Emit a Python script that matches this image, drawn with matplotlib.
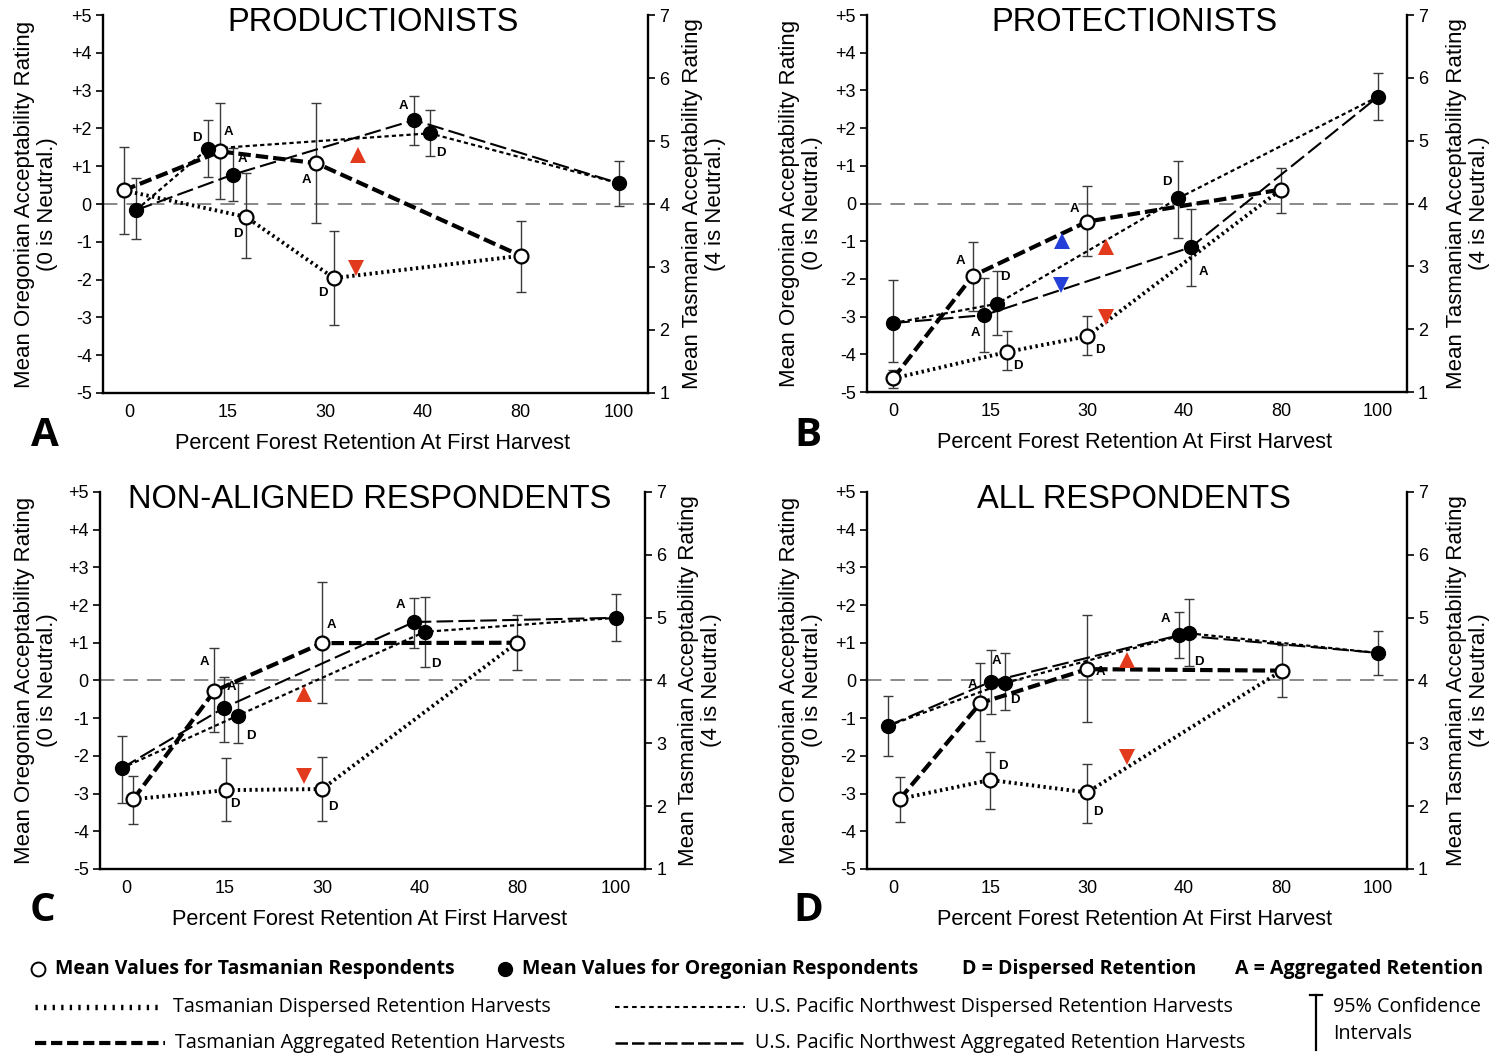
import numpy as np
import matplotlib
matplotlib.use('Agg')
from matplotlib import pyplot as plt
from matplotlib import font_manager
from matplotlib.lines import Line2D


def pick_font(names):
    for n in names:
        try:
            font_manager.findfont(n, fallback_to_default=False)
            return n
        except ValueError:
            pass
    return 'DejaVu Sans'


NARROW = pick_font(['Liberation Sans Narrow', 'Liberation Sans', 'DejaVu Sans'])
SANS = pick_font(['Liberation Sans', 'DejaVu Sans'])
LEGEND_FONT = pick_font(['Open Sans', 'Lato', 'DejaVu Sans'])

# ---- data ---------------------------------------------------------------
CATEGORIES = ['0', '15', '30', '40', '80', '100']

# Tasmanian points: 0, 15D, 15A, 30D, 30A, 80
TAS_KEYS = ['0', '15D', '15A', '30D', '30A', '80']
TAS_CAT = [0, 1, 1, 2, 2, 4]
# Oregonian points: 0, 15D, 15A, 40D, 40A, 100
ORE_KEYS = ['0', '15D', '15A', '40D', '40A', '100']
ORE_CAT = [0, 1, 1, 3, 3, 5]

# A - productionists
tas_mean_A = [0.36, -0.34, 1.39, -1.96, 1.08, -1.37]
tas_lo_A = [-0.80, -1.44, 0.14, -3.19, -0.49, -2.33]
tas_hi_A = [1.52, 0.82, 2.66, -0.72, 2.68, -0.44]
ore_mean_A = [-0.16, 1.46, 0.78, 1.87, 2.22, 0.55]
ore_lo_A = [-0.92, 0.71, 0.08, 1.28, 1.55, -0.06]
ore_hi_A = [0.69, 2.21, 1.48, 2.48, 2.87, 1.15]

# B - protectionists
tas_mean_B = [-4.64, -3.94, -1.92, -3.52, -0.48, 0.37]
tas_lo_B = [-4.88, -4.42, -2.84, -4.03, -1.38, -0.25]
tas_hi_B = [-4.42, -3.39, -1.01, -2.99, 0.47, 0.94]
ore_mean_B = [-3.17, -2.66, -2.96, 0.14, -1.16, 2.83]
ore_lo_B = [-4.20, -3.50, -3.94, -0.91, -2.18, 2.22]
ore_hi_B = [-2.03, -1.80, -1.98, 1.12, -0.15, 3.45]

# C - non-aligned respondents
tas_mean_C = [-3.15, -2.91, -0.28, -2.88, 0.99, 1.00]
tas_lo_C = [-3.81, -3.74, -1.36, -3.74, -0.59, 0.28]
tas_hi_C = [-2.53, -2.06, 0.85, -2.03, 2.60, 1.74]
ore_mean_C = [-2.33, -0.93, -0.72, 1.29, 1.55, 1.66]
ore_lo_C = [-3.24, -1.67, -1.63, 0.36, 0.86, 1.04]
ore_hi_C = [-1.48, -0.07, 0.10, 2.21, 2.18, 2.28]

# D - all respondents
tas_mean_D = [-3.14, -2.64, -0.60, -2.97, 0.30, 0.26]
tas_lo_D = [-3.76, -3.41, -1.61, -3.77, -1.09, -0.43]
tas_hi_D = [-2.56, -1.89, 0.46, -2.21, 1.73, 0.93]
ore_mean_D = [-1.20, -0.07, -0.03, 1.25, 1.20, 0.73]
ore_lo_D = [-2.01, -0.78, -0.89, 0.38, 0.59, 0.15]
ore_hi_D = [-0.42, 0.73, 0.81, 2.15, 1.81, 1.30]

# significance triangles (category position, rating)
red_up = {'A': (2.34, 1.30), 'B': (2.20, -1.15), 'C': (1.82, -0.35), 'D': (2.41, 0.55)}
red_down = {'A': (2.32, -1.68), 'B': (2.20, -3.00), 'C': (1.82, -2.53), 'D': (2.41, -2.04)}
blue_up = {'B': (1.74, -1.00)}
blue_down = {'B': (1.73, -2.16)}

TITLES = {'A': 'PRODUCTIONISTS', 'B': 'PROTECTIONISTS',
          'C': 'NON-ALIGNED RESPONDENTS', 'D': 'ALL RESPONDENTS'}

PANELS = {
    'A': (tas_mean_A, tas_lo_A, tas_hi_A, ore_mean_A, ore_lo_A, ore_hi_A),
    'B': (tas_mean_B, tas_lo_B, tas_hi_B, ore_mean_B, ore_lo_B, ore_hi_B),
    'C': (tas_mean_C, tas_lo_C, tas_hi_C, ore_mean_C, ore_lo_C, ore_hi_C),
    'D': (tas_mean_D, tas_lo_D, tas_hi_D, ore_mean_D, ore_lo_D, ore_hi_D),
}

# ---- layout / style -----------------------------------------------------
# horizontal nudges so overlapping points stay visible
TAS_SHIFT = {'A': [-0.06, 0.19, -0.07, 0.09, -0.09, 0.0],
             'B': [0.0, 0.17, -0.18, 0.0, 0.0, 0.0],
             'C': [0.07, 0.02, -0.10, 0.0, 0.0, -0.01],
             'D': [0.07, 0.0, -0.10, 0.0, 0.0, 0.01]}
ORE_SHIFT = {'A': [0.07, -0.20, 0.06, 0.07, -0.09, 0.0],
             'B': [0.0, 0.07, -0.06, -0.06, 0.07, 0.0],
             'C': [-0.05, 0.14, 0.0, 0.05, -0.06, 0.0],
             'D': [-0.05, 0.15, 0.01, 0.05, -0.05, 0.0]}

# offsets (points) of the small D / A letters
LABEL_OFF = {
    'A': {'tas': {'15D': (-6, -12), '15A': (6, 14), '30D': (-8, -11), '30A': (-7, -12)},
          'ore': {'15D': (-8, 8), '15A': (7, 11), '40D': (8, -14), '40A': (-8, 10)}},
    'B': {'tas': {'15D': (8, -10), '15A': (-9, 11), '30D': (9, -10), '30A': (-9, 9)},
          'ore': {'15D': (6, 19), '15A': (-6, -13), '40D': (-8, 12), '40A': (9, -18)}},
    'C': {'tas': {'15D': (6, -10), '15A': (-7, 21), '30D': (8, -13), '30A': (7, 13)},
          'ore': {'15D': (9, -15), '15A': (5, 15), '40D': (8, -23), '40A': (-10, 12)}},
    'D': {'tas': {'15D': (9, 10), '15A': (-6, 13), '30D': (8, -14), '30A': (10, -2)},
          'ore': {'15D': (7, -12), '15A': (4, 15), '40D': (7, -21), '40A': (-10, 12)}},
}

RECTS = {'A': [0.0687, 0.6282, 0.3636, 0.3576],
         'B': [0.5784, 0.6291, 0.3602, 0.3567],
         'C': [0.0667, 0.1779, 0.3636, 0.3567],
         'D': [0.5784, 0.1779, 0.3602, 0.3567]}
YLAB_X = {'A': (-0.123, 1.103), 'B': (-0.122, 1.113),
          'C': (-0.117, 1.101), 'D': (-0.122, 1.113)}
LETTER_POS = {'A': (0.030, 0.588), 'B': (0.539, 0.588),
              'C': (0.028, 0.139), 'D': (0.539, 0.139)}

DISP_IDX = [0, 1, 3, 5]
AGGR_IDX = [0, 2, 4, 5]

STY_TAS_D = dict(color='black', lw=2.8, ls=(0, (0.6, 0.9)), dash_capstyle='butt')
STY_TAS_A = dict(color='black', lw=3.0, ls=(0, (3.0, 1.2)), dash_capstyle='butt')
STY_ORE_D = dict(color='black', lw=1.6, ls=(0, (1.9, 1.4)), dash_capstyle='butt')
STY_ORE_A = dict(color='black', lw=1.5, ls=(0, (8.0, 2.5)), dash_capstyle='butt')

LEG_TAS_D = dict(color='black', lw=3.9, ls=(0, (0.43, 1.15)), dash_capstyle='butt')
LEG_TAS_A = dict(color='black', lw=3.0, ls=(0, (2.7, 1.15)), dash_capstyle='butt')
LEG_ORE_D = dict(color='black', lw=1.5, ls=(0, (2.2, 1.9)), dash_capstyle='butt')
LEG_ORE_A = dict(color='black', lw=1.8, ls=(0, (5.0, 1.6)), dash_capstyle='butt')

RED = '#e23a1c'
BLUE = '#2440d8'

plt.rcParams['font.family'] = [NARROW, 'DejaVu Sans']

fig = plt.figure(figsize=(14.99, 10.57), dpi=100)


def draw_panel(key):
    tas_m, tas_lo, tas_hi, ore_m, ore_lo, ore_hi = [np.array(v) for v in PANELS[key]]
    tx = np.array(TAS_CAT) + np.array(TAS_SHIFT[key])
    ox = np.array(ORE_CAT) + np.array(ORE_SHIFT[key])

    ax = fig.add_axes(RECTS[key])
    ax.set_xlim(-0.27, 5.3)
    ax.set_ylim(-5, 5)
    ax.axhline(0, color='#808080', lw=1.3, ls=(0, (8, 5)), zorder=1)

    eb = dict(fmt='none', ecolor='#3a3a3a', elinewidth=1.0, capsize=3.8, capthick=1.0, zorder=2)
    ax.errorbar(tx, tas_m, yerr=[tas_m - tas_lo, tas_hi - tas_m], **eb)
    ax.errorbar(ox, ore_m, yerr=[ore_m - ore_lo, ore_hi - ore_m], **eb)

    ax.plot(tx[DISP_IDX], tas_m[DISP_IDX], zorder=3, **STY_TAS_D)
    ax.plot(tx[AGGR_IDX], tas_m[AGGR_IDX], zorder=3, **STY_TAS_A)
    ax.plot(ox[DISP_IDX], ore_m[DISP_IDX], zorder=3, **STY_ORE_D)
    ax.plot(ox[AGGR_IDX], ore_m[AGGR_IDX], zorder=3, **STY_ORE_A)

    ax.plot(tx, tas_m, 'o', ms=10, mfc='white', mec='black', mew=1.6, zorder=5, ls='none')
    ax.plot(ox, ore_m, 'o', ms=10, mfc='black', mec='black', mew=1.0, zorder=5, ls='none')

    for group, xs, ms, keys in (('tas', tx, tas_m, TAS_KEYS), ('ore', ox, ore_m, ORE_KEYS)):
        for i, k in enumerate(keys):
            if k in LABEL_OFF[key][group]:
                dx, dy = LABEL_OFF[key][group][k]
                ax.annotate(k[-1], (xs[i], ms[i]), xytext=(dx, dy), textcoords='offset points',
                            ha='center', va='center', fontsize=9.5, fontweight='bold', zorder=6)

    for d, mk, col in ((red_up, '^', RED), (red_down, 'v', RED), (blue_up, '^', BLUE), (blue_down, 'v', BLUE)):
        if key in d:
            ax.plot([d[key][0]], [d[key][1]], mk, color=col, ms=11, mew=0, zorder=6)

    for s in ('top', 'right'):
        ax.spines[s].set_visible(False)
    for s in ('left', 'bottom'):
        ax.spines[s].set_linewidth(1.7)
    ax.set_xticks(range(len(CATEGORIES)))
    ax.set_xticklabels(CATEGORIES)
    ax.tick_params(axis='x', length=0, pad=8, labelsize=13)
    yt = np.arange(-5, 6)
    ax.set_yticks(yt)
    ax.set_yticklabels(['+%d' % v if v > 0 else str(v) for v in yt])
    ax.tick_params(axis='y', direction='out', length=5, width=1.2, pad=3, labelsize=13)

    ax2 = ax.twinx()
    ax2.set_ylim(1, 7)
    ax2.set_yticks(range(1, 8))
    ax2.tick_params(axis='y', direction='out', length=5, width=1.2, pad=3, labelsize=13)
    for s in ('top', 'left', 'bottom'):
        ax2.spines[s].set_visible(False)
    ax2.spines['right'].set_linewidth(1.7)

    ax.set_ylabel('Mean Oregonian Acceptability Rating\n(0 is Neutral.)', fontsize=16,
                  family=SANS, linespacing=1.12, va='center', ha='center')
    ax.yaxis.set_label_coords(YLAB_X[key][0], 0.5)
    ax2.set_ylabel('Mean Tasmanian Acceptability Rating\n(4 is Neutral.)', fontsize=16,
                   family=SANS, linespacing=1.12, rotation=90, va='center', ha='center')
    ax2.yaxis.set_label_coords(YLAB_X[key][1], 0.5)
    ax.set_xlabel('Percent Forest Retention At First Harvest', fontsize=15.7, family=SANS)
    ax.xaxis.set_label_coords(0.495, -0.105)

    ax.text(0.495, 0.979, TITLES[key], transform=ax.transAxes, ha='center', va='center',
            fontsize=23.5, family=SANS, zorder=7)
    fig.text(LETTER_POS[key][0], LETTER_POS[key][1], key, ha='center', va='center',
             fontsize=29, fontweight='bold', family=LEGEND_FONT)


for k in ('A', 'B', 'C', 'D'):
    draw_panel(k)

# ---- legend at the bottom -------------------------------------------------
tf = fig.transFigure
lf = dict(family=LEGEND_FONT, va='center', ha='left')
r1, r2, r3 = 0.0833, 0.0473, 0.0132
fig.add_artist(Line2D([0.0254], [r1], marker='o', ms=10, mfc='white', mec='black', mew=1.4, transform=tf))
fig.text(0.0367, r1, 'Mean Values for Tasmanian Respondents', fontsize=14, fontweight='bold', **lf)
fig.add_artist(Line2D([0.337], [r1], marker='o', ms=10, mfc='black', mec='black', transform=tf))
fig.text(0.348, r1, 'Mean Values for Oregonian Respondents', fontsize=14, fontweight='bold', **lf)
fig.text(0.6418, r1, 'D = Dispersed Retention', fontsize=14, fontweight='bold', **lf)
fig.text(0.8239, r1, 'A = Aggregated Retention', fontsize=14, fontweight='bold', **lf)

fig.add_artist(Line2D([0.0233, 0.1067], [r2, r2], transform=tf, **LEG_TAS_D))
fig.text(0.1154, r2, 'Tasmanian Dispersed Retention Harvests', fontsize=14.2, **lf)
fig.add_artist(Line2D([0.0233, 0.1100], [r3, r3], transform=tf, **LEG_TAS_A))
fig.text(0.1167, r3, 'Tasmanian Aggregated Retention Harvests', fontsize=14.2, **lf)
fig.add_artist(Line2D([0.4103, 0.4970], [r2, r2], transform=tf, **LEG_ORE_D))
fig.text(0.5037, r2, 'U.S. Pacific Northwest Dispersed Retention Harvests', fontsize=14.2, **lf)
fig.add_artist(Line2D([0.4103, 0.4970], [r3, r3], transform=tf, **LEG_ORE_A))
fig.text(0.5037, r3, 'U.S. Pacific Northwest Aggregated Retention Harvests', fontsize=14.2, **lf)

fig.add_artist(Line2D([0.8779, 0.8779], [0.0066, 0.0587], color='black', lw=1.6, transform=tf))
fig.add_artist(Line2D([0.8739, 0.8819], [0.0587, 0.0587], color='black', lw=1.6, transform=tf))
fig.text(0.8893, r2, '95% Confidence', fontsize=14.2, **lf)
fig.text(0.8893, 0.0218, 'Intervals', fontsize=14.2, **lf)

fig.savefig('out.png', dpi=100)
